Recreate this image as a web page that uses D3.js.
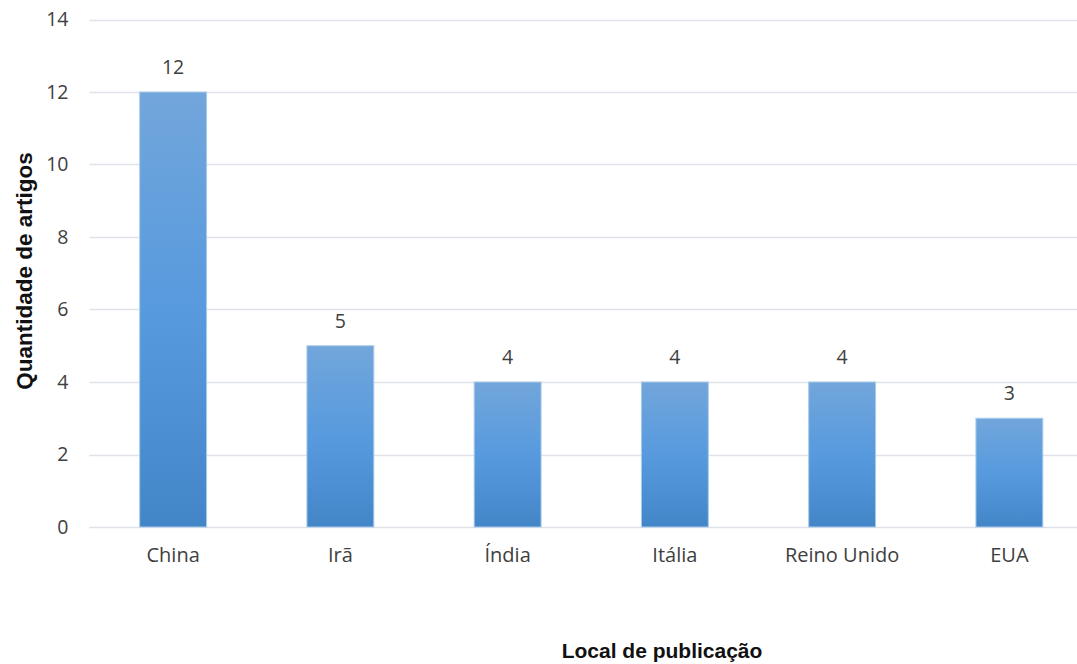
<!DOCTYPE html>
<html>
<head>
<meta charset="utf-8">
<script src="https://cdn.jsdelivr.net/npm/d3@7"></script>
<style>
  html, body { margin: 0; padding: 0; background: #fff; }
  svg { display: block; }
</style>
</head>
<body>
<div id="chart"></div>
<script>
// Articles per publication country
const categories = ["China", "Irã", "Índia", "Itália", "Reino Unido", "EUA"];
const values = [12, 5, 4, 4, 4, 3];
const yTicks = [0, 2, 4, 6, 8, 10, 12, 14];
const xTitle = "Local de publicação";
const yTitle = "Quantidade de artigos";

const W = 1077, H = 664;
const plot = { left: 89.5, right: 1093, top: 19.5, bottom: 527 };
const labelFont = "'Open Sans', 'Liberation Sans', sans-serif";
const titleFont = "'Liberation Sans', Arial, sans-serif";

const svg = d3.select("#chart").append("svg")
  .attr("width", W).attr("height", H);

const defs = svg.append("defs");
const grad = defs.append("linearGradient")
  .attr("id", "barFill").attr("x1", 0).attr("y1", 0).attr("x2", 0).attr("y2", 1);
grad.append("stop").attr("offset", "0%").attr("stop-color", "#72a6db");
grad.append("stop").attr("offset", "50%").attr("stop-color", "#579ade");
grad.append("stop").attr("offset", "100%").attr("stop-color", "#4386c8");

const x = d3.scaleBand().domain(categories)
  .range([plot.left, plot.right]).paddingInner(0.6).paddingOuter(0.3);
const y = d3.scaleLinear().domain([0, 14]).range([plot.bottom, plot.top]);

// Horizontal gridlines
svg.append("g").selectAll("line").data(yTicks).join("line")
  .attr("x1", plot.left).attr("x2", plot.right)
  .attr("y1", d => Math.round(y(d)) + 0.5).attr("y2", d => Math.round(y(d)) + 0.5)
  .attr("stroke", "#dfe2e8").attr("stroke-width", 1.3);

// Y tick labels
const yAxis = d3.axisLeft(y).tickValues(yTicks).tickSize(0).tickPadding(0);
const gy = svg.append("g").attr("transform", `translate(${plot.left - 21},0)`).call(yAxis);
gy.select(".domain").remove();
gy.selectAll("text")
  .attr("font-family", labelFont)
  .attr("font-size", 19.5).attr("fill", "#404040");

// Bars
svg.append("g").selectAll("rect").data(categories).join("rect")
  .attr("x", d => x(d)).attr("width", x.bandwidth())
  .attr("y", (d, i) => y(values[i]))
  .attr("height", (d, i) => y(0) - y(values[i]))
  .attr("fill", "url(#barFill)")
  .attr("stroke", "#a9cbeb").attr("stroke-width", 1);

// Value labels
svg.append("g").selectAll("text").data(categories).join("text")
  .attr("x", d => x(d) + x.bandwidth() / 2)
  .attr("y", (d, i) => y(values[i]) - 18)
  .attr("text-anchor", "middle")
  .attr("font-family", labelFont)
  .attr("font-size", 19.5).attr("fill", "#404040")
  .text((d, i) => values[i]);

// Category labels
const xAxis = d3.axisBottom(x).tickSize(0).tickPadding(0);
const gx = svg.append("g").attr("transform", `translate(0,${plot.bottom + 21})`).call(xAxis);
gx.select(".domain").remove();
gx.selectAll("text")
  .attr("font-family", labelFont)
  .attr("font-size", 20).attr("fill", "#404040");

// Axis titles
svg.append("text")
  .attr("x", 662).attr("y", 658)
  .attr("text-anchor", "middle")
  .attr("font-family", titleFont)
  .attr("font-weight", "bold").attr("font-size", 21).attr("fill", "#111")
  .text(xTitle);

svg.append("text")
  .attr("transform", `translate(32,271) rotate(-90)`)
  .attr("text-anchor", "middle")
  .attr("font-family", titleFont)
  .attr("font-weight", "bold").attr("font-size", 22.5).attr("fill", "#111")
  .text(yTitle);
</script>
</body>
</html>
